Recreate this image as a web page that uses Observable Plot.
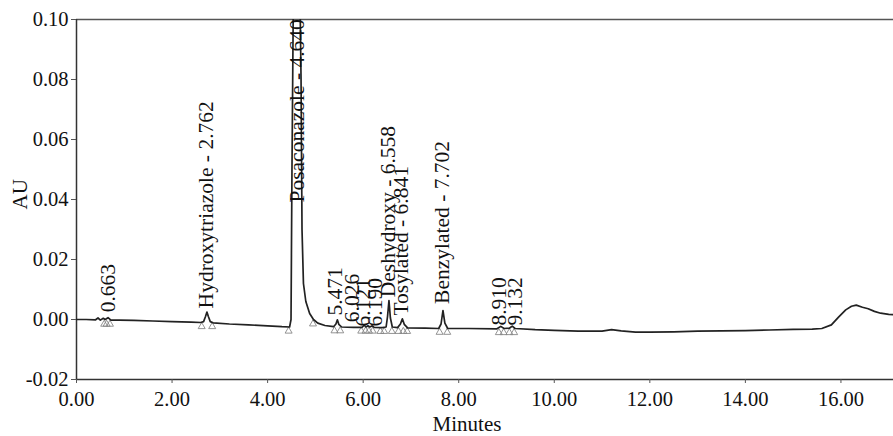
<!DOCTYPE html>
<html>
<head>
<meta charset="utf-8">
<script src="https://cdn.jsdelivr.net/npm/d3@7"></script>
<script src="https://cdn.jsdelivr.net/npm/@observablehq/plot@0.6"></script>
<style>
  html, body { margin: 0; padding: 0; background: #fff; }
  #chart svg { display: block; }
</style>
</head>
<body>
<div id="chart"></div>
<script>
// Chromatogram trace (minutes, AU)
const traceT = [0.00,0.20,0.40,0.45,0.50,0.56,0.60,0.66,0.72,0.90,1.20,1.60,2.00,2.40,2.60,2.66,2.70,2.73,2.76,2.80,2.86,3.20,3.60,4.00,4.30,4.46,4.49,4.51,4.54,4.60,4.66,4.70,4.72,4.75,4.80,4.88,4.96,5.05,5.20,5.38,5.43,5.46,5.49,5.55,5.80,5.98,6.02,6.06,6.10,6.14,6.19,6.23,6.40,6.48,6.51,6.54,6.57,6.61,6.72,6.78,6.82,6.86,6.93,7.30,7.58,7.63,7.67,7.71,7.77,8.20,8.80,8.88,8.95,9.06,9.12,9.18,9.60,10.00,10.50,11.00,11.20,11.40,11.70,12.00,12.50,13.00,13.50,14.00,14.50,15.00,15.40,15.60,15.80,15.95,16.10,16.22,16.32,16.45,16.57,16.70,16.83,17.00,17.10];
const traceAU = [0.0000,0.0000,-0.0001,0.0005,-0.0002,0.0004,0.0000,0.0006,-0.0002,-0.0002,-0.0003,-0.0005,-0.0007,-0.0009,-0.0010,-0.0007,0.0010,0.0025,0.0010,-0.0007,-0.0011,-0.0015,-0.0018,-0.0021,-0.0024,-0.0025,0.0000,0.0500,0.1100,0.1500,0.1300,0.0800,0.0300,0.0120,0.0060,0.0020,0.0000,-0.0012,-0.0020,-0.0024,-0.0015,-0.0001,-0.0016,-0.0025,-0.0026,-0.0026,-0.0019,-0.0025,-0.0021,-0.0025,-0.0021,-0.0026,-0.0027,-0.0025,0.0010,0.0063,0.0005,-0.0025,-0.0027,-0.0015,0.0002,-0.0016,-0.0028,-0.0029,-0.0030,-0.0015,0.0030,-0.0012,-0.0030,-0.0030,-0.0031,-0.0023,-0.0030,-0.0029,-0.0022,-0.0030,-0.0034,-0.0036,-0.0039,-0.0039,-0.0034,-0.0038,-0.0042,-0.0042,-0.0041,-0.0039,-0.0038,-0.0037,-0.0035,-0.0033,-0.0032,-0.0030,-0.0018,0.0008,0.0032,0.0044,0.0048,0.0041,0.0036,0.0027,0.0021,0.0017,0.0016];

// Peak labels: text, label position (minutes), label start (AU)
const peakLabels = ["0.663","Hydroxytriazole - 2.762","Posaconazole - 4.640","5.471","6.026","6.121","6.190","Deshydroxy - 6.558","Tosylated - 6.841","Benzylated - 7.702","8.910","9.132"];
const labelT = [0.67,2.72,4.62,5.42,5.76,6.00,6.25,6.53,6.80,7.65,8.84,9.17];
const labelAU = [0.0024,0.0037,0.0390,0.0013,-0.0009,-0.0023,-0.0023,0.0074,0.0013,0.0052,-0.0020,-0.0020];

// Integration markers (minutes, AU)
const markT = [0.58,0.63,0.70,2.62,2.84,4.44,4.95,5.40,5.52,5.96,6.05,6.12,6.20,6.36,6.44,6.60,6.74,6.84,6.92,7.60,7.76,8.84,8.94,9.06,9.16];
const markAU = [-0.0004,-0.0004,-0.0004,-0.0012,-0.0012,-0.0027,-0.0003,-0.0026,-0.0026,-0.0027,-0.0027,-0.0027,-0.0027,-0.0028,-0.0028,-0.0028,-0.0028,-0.0028,-0.0028,-0.0031,-0.0031,-0.0032,-0.0032,-0.0032,-0.0032];

// Axis ticks
const xTicks = [0,2,4,6,8,10,12,14,16];
const yTicks = [-0.02,0,0.02,0.04,0.06,0.08,0.10];
const xTitle = "Minutes";
const yTitle = "AU";

const trace = traceT.map((t, i) => ({t, v: traceAU[i]}));
const labels = peakLabels.map((text, i) => ({text, t: labelT[i], v: labelAU[i]}));
const marks = markT.map((t, i) => ({t, v: markAU[i]}));

const chart = Plot.plot({
  width: 893,
  height: 436,
  marginLeft: 76,
  marginRight: 0,
  marginTop: 19,
  marginBottom: 57,
  style: {fontFamily: "'Liberation Serif', 'Times New Roman', serif", fontSize: "20px", color: "#111", background: "#fff"},
  x: {domain: [0, 17.1]},
  y: {domain: [-0.02, 0.10]},
  marks: [
    Plot.ruleY([-0.02], {stroke: "#333", strokeWidth: 1.5}),
    Plot.ruleY([0.10], {stroke: "#555", strokeWidth: 1.3}),
    Plot.ruleX([0], {y1: -0.02, y2: 0.10, stroke: "#333", strokeWidth: 1.5}),
    Plot.axisX({ticks: xTicks, tickFormat: d => d.toFixed(2), tickSize: 4, tickPadding: 8, label: null, stroke: "#555", fontSize: 20.5}),
    Plot.axisY({ticks: yTicks, tickFormat: d => d.toFixed(2), tickSize: 5, tickPadding: 3, label: null, stroke: "#555", fontSize: 20.5}),
    Plot.dot(marks, {x: "t", y: "v", symbol: "triangle", r: 2.6, stroke: "#888", strokeWidth: 0.9, fill: "none", dy: 3.5}),
    Plot.line(trace, {x: "t", y: "v", stroke: "#222", strokeWidth: 1.7, clip: true}),
    Plot.text(labels, {x: "t", y: "v", text: "text", rotate: -90, textAnchor: "start", lineAnchor: "middle", fill: "#111", fontSize: 21.5}),
    Plot.text([xTitle], {frameAnchor: "bottom", dx: -18, dy: 45, lineAnchor: "middle", fill: "#111", fontSize: 21}),
    Plot.text([yTitle], {frameAnchor: "left", dx: -56, dy: 10, rotate: -90, lineAnchor: "middle", fill: "#111", fontSize: 21})
  ]
});
document.getElementById("chart").appendChild(chart);
</script>
</body>
</html>
